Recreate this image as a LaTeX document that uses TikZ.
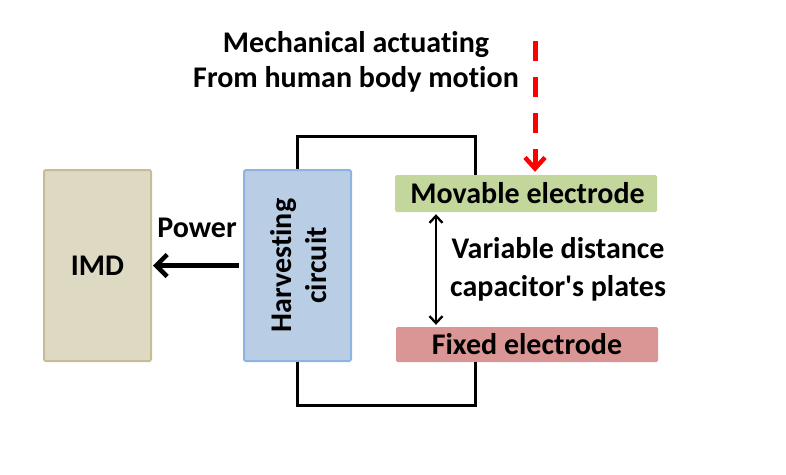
\documentclass[tikz,border=0pt]{standalone}
\usepackage{fontspec}
\setmainfont{Carlito}[Ligatures={TeXOff,NoCommon}]
\usetikzlibrary{arrows.meta,calc}
\definecolor{imdfill}{HTML}{DDD9C3}
\definecolor{imddraw}{HTML}{C4BD97}
\definecolor{harvfill}{HTML}{B9CDE5}
\definecolor{harvdraw}{HTML}{8EB4E3}
\definecolor{movfill}{HTML}{C3D69B}
\definecolor{fixfill}{HTML}{D99694}
\tikzset{
  box/.style={rectangle, rounded corners=1.5pt, line width=2pt, inner sep=0pt, font=\fontsize{30}{34}\selectfont\bfseries},
  plate/.style={rectangle, rounded corners=1.5pt, inner sep=0pt, font=\fontsize{30}{34}\selectfont\bfseries},
  lbl/.style={font=\fontsize{30}{35}\selectfont\bfseries, align=center, inner sep=0pt},
  wire/.style={line width=3pt, line join=miter},
}
\begin{document}
\begin{tikzpicture}[x=1pt,y=-1pt]
\useasboundingbox (0,0) rectangle (786,474);
\node[box, fill=imdfill, draw=imddraw, minimum width=107pt, minimum height=191pt] (imd) at (97.5,265.5) {IMD};
\node[box, fill=harvfill, draw=harvdraw, minimum width=107pt, minimum height=191pt] (harv) at (297.5,265.5) {};
\node[lbl, rotate=90, font=\fontsize{30}{35}\selectfont\bfseries] (harvt) at (299,265.5) {Harvesting\\circuit};
\node[plate, fill=movfill, minimum width=262pt, minimum height=37pt] (mov) at (526,193.5) {\hspace*{3pt}Movable electrode};
\node[plate, fill=fixfill, minimum width=262pt, minimum height=35pt] (fix) at (527,344.5) {Fixed electrode};
\coordinate (tw) at (475,136);
\coordinate (bw) at (475,405);
\draw[wire] (harv.north) |- (tw) -- (tw |- mov.north);
\draw[wire] (harv.south) |- (bw) -- (bw |- fix.south);
\draw[line width=4.5pt, -{Straight Barb[length=11pt,width=22pt,line width=4.5pt]}, shorten <=4pt, shorten >=1pt] (harv.west) -- (imd.east);
\node[lbl] (pow) at (197,228) {Power};
\coordinate (da) at (436,0);
\draw[line width=2.3pt, {Straight Barb[length=7pt,width=13pt,line width=2.3pt]}-{Straight Barb[length=7pt,width=13pt,line width=2.3pt]}, shorten <=2pt, shorten >=2pt] (da |- mov.south) -- (da |- fix.north);
\node[lbl, anchor=west, font=\fontsize{30}{38}\selectfont\bfseries] (var) at (450,269) {Variable distance\\capacitor's plates};
\coordinate (ra) at (535,41);
\draw[red, line width=5pt, dash pattern=on 20pt off 16pt, -{Straight Barb[length=11pt,width=20pt,line width=4.5pt]}, shorten >=3pt] (ra) -- (ra |- mov.north);
\node[lbl] (mech) at (356,62) {Mechanical actuating\\From human body motion};
\end{tikzpicture}
\end{document}
